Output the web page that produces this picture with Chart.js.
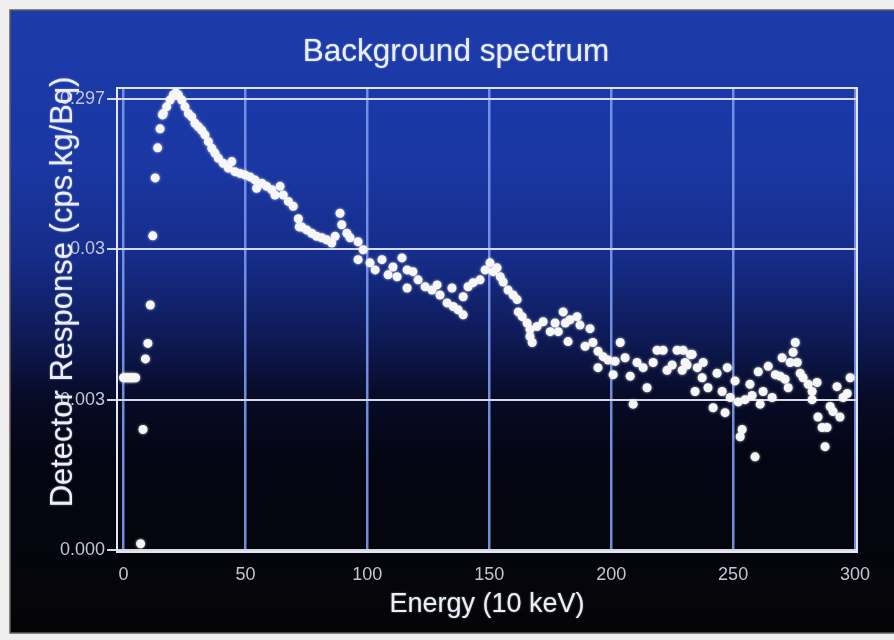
<!DOCTYPE html>
<html>
<head>
<meta charset="utf-8">
<script src="https://cdn.jsdelivr.net/npm/chart.js@4.4.1/dist/chart.umd.min.js"></script>
<style>
  html, body { margin: 0; padding: 0; background: #f0f0f0; }
  #wrap { position: relative; width: 894px; height: 640px; }
</style>
</head>
<body>
<div id="wrap"><canvas id="chart" width="894" height="640"></canvas></div>
<script>
// Energy channel (10 keV units) of each measured point
const energy = [
  0, 1, 2, 3, 4, 5,
  7, 8, 9, 10, 11, 12, 13, 14, 15, 16,
  16.3, 17.7, 19.1, 20.4, 21.5, 22.5, 23.9, 25.2, 26.6, 28.0, 29.3, 30.7, 32.1, 33.4,
  34.8, 36.2, 37.5, 38.9, 40.9, 43.0, 44.4, 45.7, 47.8, 49.8, 51.9, 53.9, 54.6, 56.7,
  58.7, 60.8, 62.1, 64.2, 65.5, 67.6, 69.6, 71.7, 72.1, 73.1, 75.1, 77.2, 79.2, 81.3,
  83.3, 85.4, 86.8, 88.8, 89.5, 91.6,
  92.9, 96.2, 96.2, 98.3, 101.1, 103.2, 106.0, 108.5, 110.5, 112.2, 114.2, 116.3, 116.3,
  118.7, 120.8, 123.7, 126.5, 128.6, 129.8, 132.7, 134.7, 135.2, 137.2, 139.3, 139.3,
  141.3, 143.4, 146.2, 148.3, 150.3, 151.6, 153.2, 154.5, 155.7, 157.7, 159.8, 161.4,
  161.9, 163.5, 165.5, 166.7, 166.7, 167.6, 169.6, 172.1,
  175.0, 177.0, 178.3, 180.3, 181.2, 182.3, 183.1, 186.0, 187.2, 189.3, 191.3, 192.5,
  194.6, 194.6, 196.7, 198.7, 200.8, 201.6, 203.7, 205.7, 207.8, 209.0, 210.6, 213.1,
  214.7, 217.2, 218.8, 221.3, 222.9, 225.0, 227.0, 229.1, 229.5, 230.3, 231.1, 232.4,
  233.2, 234.4, 235.3, 237.3, 237.7, 239.7, 241.8, 243.4, 245.5, 246.7, 247.6, 248.8,
  250.8, 252.1, 252.9, 253.7, 254.9, 256.9, 257.8, 259.0, 260.3, 261.1, 262.3, 264.4,
  266.0, 267.3, 269.3, 270.1, 271.3, 272.6, 273.4, 274.6, 275.5, 276.3, 277.5, 278.7,
  280.8, 282.4, 282.4, 284.4, 284.8, 286.5, 287.7, 288.5, 289.8, 291.0, 292.6, 293.8,
  295.1, 296.8, 298.0
];

// Detector response (cps.kg/Bq) at each energy
const response = [
  0.0042, 0.0042, 0.0042, 0.0042, 0.0042, 0.0042,
  0.00033, 0.0019, 0.0056, 0.0071, 0.0128, 0.0369, 0.0896, 0.142, 0.190, 0.235,
  0.240, 0.266, 0.2955, 0.319, 0.329, 0.319, 0.2955, 0.266, 0.240, 0.228, 0.207, 0.196, 0.186, 0.173,
  0.156, 0.141, 0.131, 0.121, 0.112, 0.104, 0.115, 0.0986, 0.096, 0.0938, 0.091, 0.0869, 0.0765, 0.0826,
  0.0787, 0.0748, 0.069, 0.0787, 0.069, 0.0625, 0.058, 0.0479, 0.0423, 0.0423, 0.0404, 0.0384, 0.0366, 0.0358,
  0.0347, 0.033, 0.0366, 0.0521, 0.0437, 0.0384,
  0.0358, 0.0337, 0.0256, 0.0298, 0.0244, 0.0219, 0.0256, 0.0203, 0.0229, 0.0197, 0.0263, 0.0219, 0.0166,
  0.0213, 0.0188, 0.0169, 0.0161, 0.0174, 0.0149, 0.0132, 0.0166, 0.0125, 0.0119, 0.0110, 0.0145,
  0.0169, 0.0180, 0.0188, 0.0219, 0.0244, 0.0213, 0.0226, 0.0197, 0.0182, 0.0161, 0.0149, 0.0139,
  0.0115, 0.0107, 0.0097, 0.0088, 0.0079, 0.0072, 0.0092, 0.0099,
  0.0085, 0.0097, 0.0085, 0.0115, 0.0097, 0.0073, 0.0102, 0.0107, 0.0094, 0.0068, 0.0089, 0.0072,
  0.0063, 0.0049, 0.0058, 0.0055, 0.0044, 0.0054, 0.0072, 0.0057, 0.0043, 0.0028, 0.0053, 0.0049,
  0.0036, 0.0053, 0.0064, 0.0064, 0.0047, 0.0051, 0.0064, 0.0047, 0.0064, 0.0053, 0.0051, 0.0060,
  0.0060, 0.0034, 0.0049, 0.0042, 0.0053, 0.0036, 0.00265, 0.0045, 0.0034, 0.00246, 0.0049, 0.0031,
  0.0040, 0.0029, 0.0017, 0.0019, 0.0030, 0.0038, 0.0032, 0.00125, 0.0046, 0.0028, 0.0034, 0.0050,
  0.0031, 0.0044, 0.0043, 0.0057, 0.0041, 0.0036, 0.0053, 0.0062, 0.0072, 0.0053, 0.0045, 0.0042,
  0.0038, 0.0034, 0.0030, 0.0039, 0.0023, 0.00196, 0.00146, 0.00196, 0.0027, 0.0025, 0.00366, 0.0023,
  0.0031, 0.0033, 0.0042
];

// Axis ticks
const xTickValues = [0, 50, 100, 150, 200, 250, 300];
const yTickValues = [0.0003, 0.003, 0.03, 0.3];
const yTickLabels = ['0.000', '0.003', '0.03', '0.297'];

const chartTitle = 'Background spectrum';
const xTitle = 'Energy (10 keV)';
const yTitle = 'Detector Response (cps.kg/Bq)';

const points = energy.map((e, i) => ({ x: e, y: response[i] }));

// Panel background: blue fading to black, inside a light frame
const panelBackground = {
  id: 'panelBackground',
  beforeDraw(chart) {
    const ctx = chart.ctx;
    const w = chart.width, h = chart.height;
    ctx.save();
    ctx.fillStyle = '#efefef';
    ctx.fillRect(0, 0, w, h);
    const g = ctx.createLinearGradient(0, 10, 0, 633);
    g.addColorStop(0.00, '#1c3caa');
    g.addColorStop(0.25, '#1a37a3');
    g.addColorStop(0.40, '#152c88');
    g.addColorStop(0.52, '#0e1b58');
    g.addColorStop(0.62, '#070b28');
    g.addColorStop(0.72, '#040512');
    g.addColorStop(1.00, '#050508');
    ctx.fillStyle = g;
    ctx.fillRect(10, 10, w - 10, 623);
    ctx.strokeStyle = '#6a5a58';
    ctx.lineWidth = 1.5;
    ctx.strokeRect(10, 10, w - 8, 623);
    ctx.restore();
  },
  beforeDatasetsDraw(chart) {
    const { ctx, chartArea: a } = chart;
    ctx.save();
    ctx.strokeStyle = '#e4e6f0';
    ctx.lineWidth = 2;
    ctx.strokeRect(a.left, a.top, a.right - a.left, a.bottom - a.top);
    ctx.restore();
    ctx.save();
    ctx.shadowColor = 'rgba(255,255,255,0.7)';
    ctx.shadowBlur = 3;
  },
  afterDatasetsDraw(chart) {
    chart.ctx.restore();
  },
  afterDraw(chart) {
    const ctx = chart.ctx;
    ctx.save();
    ctx.fillStyle = '#eceff8';
    ctx.shadowColor = 'rgba(220,230,255,0.55)';
    ctx.shadowBlur = 2;
    ctx.textAlign = 'center';
    ctx.textBaseline = 'middle';
    ctx.font = '31.5px "Liberation Sans", Arial, sans-serif';
    ctx.fillText(chartTitle, 456, 52);
    ctx.font = '27px "Liberation Sans", Arial, sans-serif';
    ctx.fillText(xTitle, 487, 605);
    ctx.translate(63, 292);
    ctx.rotate(-Math.PI / 2);
    ctx.font = '31px "Liberation Sans", Arial, sans-serif';
    ctx.fillText(yTitle, 0, 0);
    ctx.restore();
  }
};

new Chart(document.getElementById('chart'), {
  type: 'scatter',
  data: {
    datasets: [{
      data: points,
      pointRadius: 4.5,
      pointHoverRadius: 4.5,
      pointBackgroundColor: '#f6f6f6',
      pointBorderWidth: 0,
      showLine: false
    }]
  },
  options: {
    responsive: false,
    animation: false,
    layout: { padding: { top: 88, right: 37, left: 0, bottom: 0 } },
    plugins: { legend: { display: false }, tooltip: { enabled: false }, title: { display: false } },
    scales: {
      x: {
        type: 'linear',
        min: -2.67,
        max: 300.8,
        afterFit(scale) { scale.height = 88; },
        afterBuildTicks(scale) { scale.ticks = xTickValues.map(v => ({ value: v })); },
        border: { display: false },
        grid: { color: 'rgba(118,148,232,0.95)', lineWidth: 2.5, drawTicks: false, tickLength: 0 },
        ticks: {
          color: '#c2c6d4',
          padding: 12,
          font: { family: '"Liberation Sans", Arial, sans-serif', size: 18 },
          maxRotation: 0,
          callback: v => String(v)
        }
      },
      y: {
        type: 'logarithmic',
        min: 0.000291,
        max: 0.355,
        afterFit(scale) { scale.width = 117; },
        afterBuildTicks(scale) { scale.ticks = yTickValues.map(v => ({ value: v })); },
        border: { display: false },
        grid: { color: '#d6d8e4', lineWidth: 2, drawTicks: true, tickLength: 10 },
        ticks: {
          color: '#c2c6d4',
          padding: 2,
          font: { family: '"Liberation Sans", Arial, sans-serif', size: 18 },
          callback: (v) => {
            const i = yTickValues.findIndex(t => Math.abs(t - v) / t < 1e-6);
            return i >= 0 ? yTickLabels[i] : '';
          }
        }
      }
    }
  },
  plugins: [panelBackground]
});
</script>
</body>
</html>
